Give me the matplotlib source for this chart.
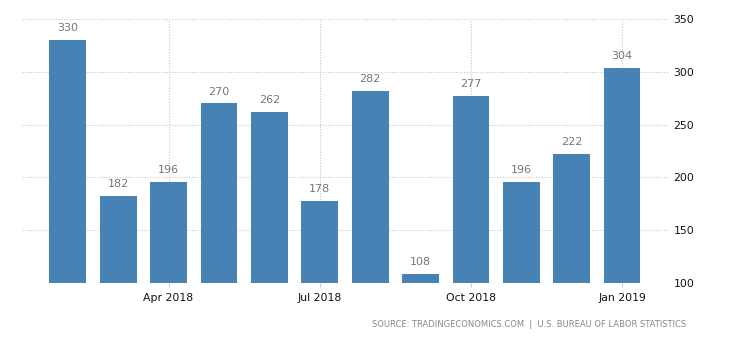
import numpy as np
import matplotlib.pyplot as plt

months = ["Feb 2018", "Mar 2018", "Apr 2018", "May 2018", "Jun 2018", "Jul 2018",
          "Aug 2018", "Sep 2018", "Oct 2018", "Nov 2018", "Dec 2018", "Jan 2019"]
values = [330, 182, 196, 270, 262, 178, 282, 108, 277, 196, 222, 304]
tick_labels = ["Apr 2018", "Jul 2018", "Oct 2018", "Jan 2019"]
y_ticks = [100, 150, 200, 250, 300, 350]

fig = plt.figure(figsize=(7.3, 3.4), dpi=100)
ax = fig.add_axes([0.030, 0.168, 0.885, 0.776])

x = np.arange(len(months))
ax.bar(x, [v - 100 for v in values], bottom=100, width=0.73, color="#4682b4", zorder=2)

for xi, v in zip(x, values):
    ax.annotate(str(v), (xi, v), xytext=(0, 5), textcoords="offset points",
                ha="center", va="bottom", fontsize=8, color="#777777")

ax.set_xlim(-0.91, len(months) - 1 + 0.91)
ax.set_ylim(100, 350)

tick_pos = [months.index(t) for t in tick_labels]
ax.set_xticks(tick_pos)
ax.set_xticklabels(tick_labels, fontsize=7.8, color="#111111")
ax.tick_params(axis="x", length=3, color="#cccccc", pad=4)

ax.yaxis.tick_right()
ax.set_yticks(y_ticks)
ax.set_yticklabels([str(t) for t in y_ticks], fontsize=7.8, color="#111111")
ax.tick_params(axis="y", length=0, pad=4)

ax.grid(True, linestyle=(0, (1, 1.5)), color="#c8c8c8", linewidth=0.8, zorder=0)
ax.set_axisbelow(True)
for s in ax.spines.values():
    s.set_visible(False)

fig.text(0.940, 0.045, "SOURCE: TRADINGECONOMICS.COM  |  U.S. BUREAU OF LABOR STATISTICS",
         ha="right", va="center", fontsize=6, color="#888888")

fig.savefig("out.png", dpi=100)
